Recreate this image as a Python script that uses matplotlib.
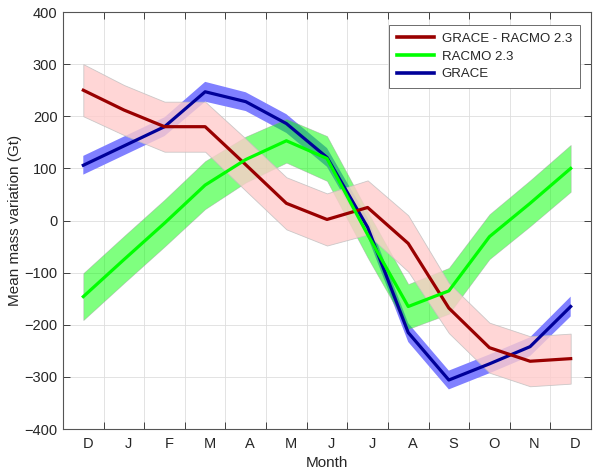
import matplotlib
matplotlib.use("Agg")
import matplotlib.pyplot as plt
import numpy as np

plt.rcParams['font.family'] = ['Liberation Sans', 'DejaVu Sans']

months = ['D', 'J', 'F', 'M', 'A', 'M', 'J', 'J', 'A', 'S', 'O', 'N', 'D']
grace_racmo = [250, 212, 180, 180, 107, 33, 2, 25, -44, -168, -244, -270, -265]
grace_racmo_err = [50, 48, 48, 48, 50, 50, 50, 52, 54, 48, 48, 48, 48]
racmo = [-146, -75, -5, 68, 117, 153, 119, -27, -165, -135, -31, 33, 100]
racmo_err = [45, 45, 45, 46, 44, 42, 43, 44, 43, 44, 43, 44, 45]
grace = [106, 143, 180, 247, 228, 186, 121, -13, -215, -306, -275, -242, -165]
grace_err = [18, 18, 18, 19, 18, 18, 18, 18, 18, 18, 18, 18, 19]

x = np.arange(len(months)) + 0.5
gr = np.array(grace_racmo); gre = np.array(grace_racmo_err)
rc = np.array(racmo); rce = np.array(racmo_err)
g = np.array(grace); ge = np.array(grace_err)

fig = plt.figure(figsize=(6.0, 4.73), dpi=100)
ax = fig.add_axes([0.105, 0.093, 0.88, 0.8816])

txt = '#262626'
# bands
ax.fill_between(x, g - ge, g + ge, facecolor=(0.5, 0.5, 1.0), edgecolor='none', zorder=2)
ax.fill_between(x, rc - rce, rc + rce, facecolor=(0.0, 1.0, 0.0), alpha=0.5,
                edgecolor=(0.6, 0.6, 0.6), linewidth=0.5, zorder=3)
ax.fill_between(x, gr - gre, gr + gre, facecolor=(1.0, 0.8, 0.8), alpha=0.8,
                edgecolor=(0.75, 0.75, 0.75), linewidth=0.6, zorder=4)

# lines
l_g, = ax.plot(x, g, color=(0.0, 0.0, 0.6), lw=2.3, zorder=5, label='GRACE')
l_r, = ax.plot(x, gr, color=(0.6, 0.0, 0.0), lw=2.3, zorder=6, label='GRACE - RACMO 2.3')
l_c, = ax.plot(x, rc, color=(0.0, 1.0, 0.0), lw=2.3, zorder=7, label='RACMO 2.3')

ax.set_xlim(0, 13)
ax.set_ylim(-400, 400)
ax.set_xticks(np.arange(1, 13))
ax.set_xticklabels([])
ax.set_xticks(x + 0.11, minor=True)
ax.set_xticklabels(months, minor=True)
ax.set_yticks(np.arange(-400, 401, 100))
ax.tick_params(which='major', direction='in', top=True, right=True, length=5,
               width=0.6, color=txt, labelsize=10.5, labelcolor=txt)
ax.tick_params(which='minor', length=0, labelsize=10.5, labelcolor=txt, pad=6)
ax.tick_params(axis='y', pad=4)
ax.grid(True, which='major', color=(0.87, 0.87, 0.87), linewidth=0.6, zorder=0)
ax.set_axisbelow(True)
for s in ax.spines.values():
    s.set_color('#555555')
    s.set_linewidth(0.8)

ax.set_xlabel('Month', fontsize=11, color=txt, labelpad=3)
ax.set_ylabel('Mean mass variation (Gt)', fontsize=11, color=txt, labelpad=2)

leg = ax.legend(handles=[l_r, l_c, l_g], loc='upper right', bbox_to_anchor=(0.979, 0.969),
                borderaxespad=0, fancybox=False, fontsize=9.5, handlelength=2.8,
                framealpha=1, edgecolor='#555555', labelspacing=0.4, borderpad=0.6,
                handletextpad=0.6)
leg.get_frame().set_linewidth(0.6)
for t in leg.get_texts():
    t.set_color(txt)
for h in leg.get_lines():
    h.set_linewidth(2.6)
leg.set_zorder(10)

fig.savefig('out.png', dpi=100)
